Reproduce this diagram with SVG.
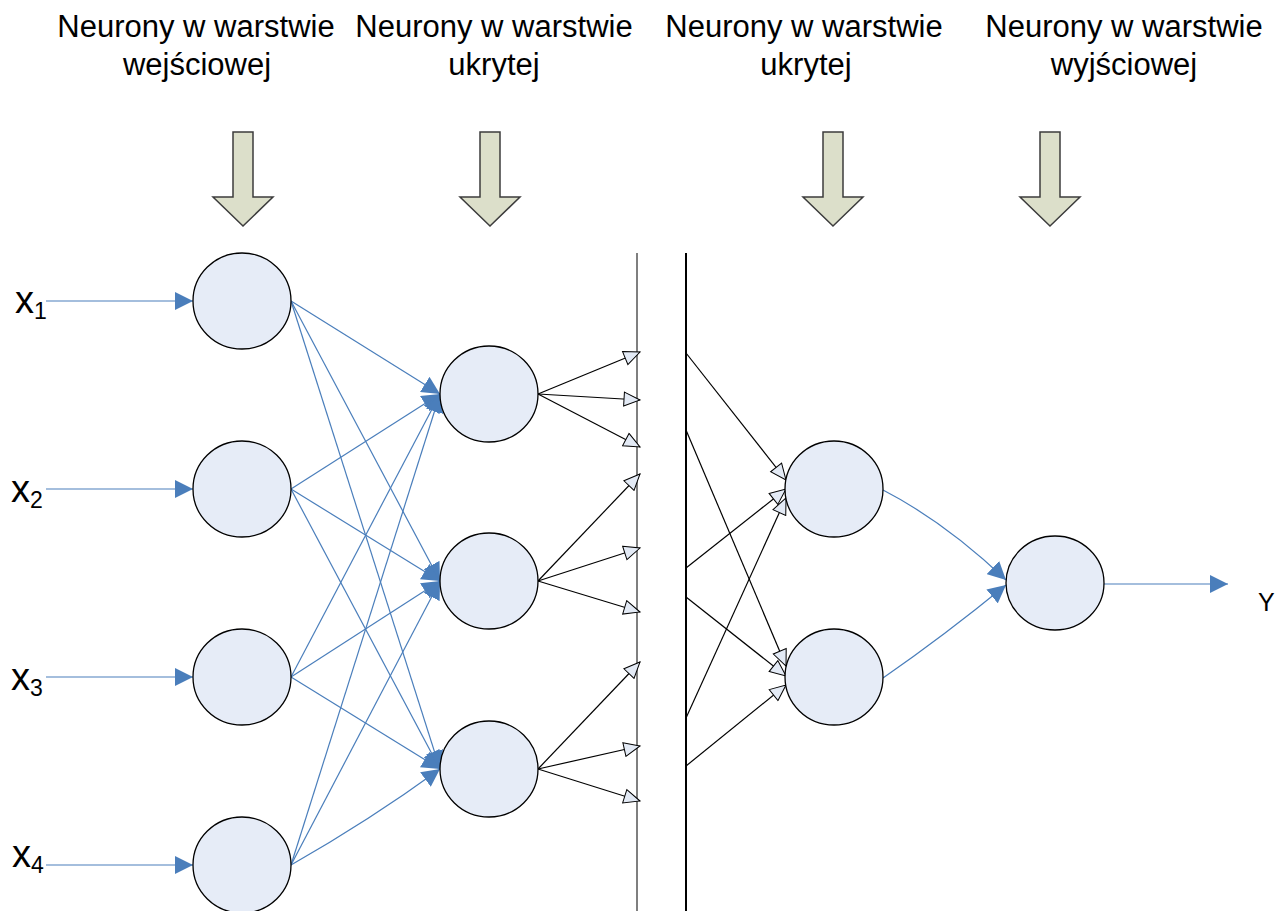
<svg xmlns="http://www.w3.org/2000/svg" width="1283" height="911" viewBox="0 0 1283 911">
<style>
.hdr{font-family:"Liberation Sans",Arial,sans-serif;font-size:31px;fill:#000;text-anchor:middle}
.lbl{font-family:"Liberation Sans",Arial,sans-serif;fill:#000}
.node{fill:#E6ECF7;stroke:#000;stroke-width:1.3}
.big{fill:#DCDFCA;stroke:#3c3c3c;stroke-width:1.5}
.bl{fill:none;stroke:#4A7EBB;stroke-width:1.2;marker-end:url(#ba)}
.bk{fill:none;stroke:#000;stroke-width:1.2;marker-end:url(#ha)}
</style>
<defs>
<marker id="ba" markerUnits="userSpaceOnUse" viewBox="0 0 18 18" markerWidth="18" markerHeight="18" refX="18" refY="9" orient="auto">
<path d="M0,0 L18,9 L0,18 z" fill="#4A7EBB"/>
</marker>
<marker id="ha" markerUnits="userSpaceOnUse" viewBox="-1 -1 19 16" markerWidth="19" markerHeight="16" refX="16" refY="7" orient="auto">
<path d="M0,0 L16,7 L0,14 z" fill="#E3EAF5" stroke="#000" stroke-width="1"/>
</marker>
</defs>

<g id="headers">
<text class="hdr" x="196" y="37">Neurony w warstwie</text>
<text class="hdr" x="197" y="75">wejściowej</text>
<text class="hdr" x="494" y="37">Neurony w warstwie</text>
<text class="hdr" x="494" y="75">ukrytej</text>
<text class="hdr" x="804" y="37">Neurony w warstwie</text>
<text class="hdr" x="806" y="75">ukrytej</text>
<text class="hdr" x="1124" y="37">Neurony w warstwie</text>
<text class="hdr" x="1124" y="75">wyjściowej</text>
</g>

<g id="layer-arrows">
<polygon class="big" points="233,132 253,132 253,197 273,197 243,226 213,197 233,197"/>
<polygon class="big" points="480,132 500,132 500,197 520,197 490,226 460,197 480,197"/>
<polygon class="big" points="823,132 843,132 843,197 863,197 833,226 803,197 823,197"/>
<polygon class="big" points="1040,132 1060,132 1060,197 1080,197 1050,226 1020,197 1040,197"/>
</g>

<g id="dividers">
<line x1="637" y1="253" x2="637" y2="911" stroke="#7f7f7f" stroke-width="2"/>
<line x1="686" y1="253" x2="686" y2="911" stroke="#000" stroke-width="2"/>
</g>

<g id="connectors">
<line class="bl" x1="46" y1="301" x2="193" y2="301"/>
<line class="bl" x1="46" y1="489" x2="193" y2="489"/>
<line class="bl" x1="46" y1="677" x2="193" y2="677"/>
<line class="bl" x1="46" y1="865" x2="193" y2="865"/>

<line class="bl" x1="291" y1="301" x2="440" y2="394"/>
<line class="bl" x1="291" y1="301" x2="440" y2="581"/>
<line class="bl" x1="291" y1="301" x2="440" y2="769"/>
<line class="bl" x1="291" y1="489" x2="440" y2="394"/>
<line class="bl" x1="291" y1="489" x2="440" y2="581"/>
<line class="bl" x1="291" y1="489" x2="440" y2="769"/>
<line class="bl" x1="291" y1="677" x2="440" y2="394"/>
<line class="bl" x1="291" y1="677" x2="440" y2="581"/>
<line class="bl" x1="291" y1="677" x2="440" y2="769"/>
<line class="bl" x1="291" y1="865" x2="440" y2="394"/>
<line class="bl" x1="291" y1="865" x2="440" y2="581"/>
<path class="bl" d="M291,865 Q370,820 440,769"/>

<line class="bk" x1="538" y1="394" x2="640" y2="352"/>
<line class="bk" x1="538" y1="394" x2="640" y2="400"/>
<line class="bk" x1="538" y1="394" x2="640" y2="447"/>
<line class="bk" x1="538" y1="581" x2="640" y2="474"/>
<line class="bk" x1="538" y1="581" x2="640" y2="548"/>
<line class="bk" x1="538" y1="581" x2="640" y2="612"/>
<line class="bk" x1="538" y1="769" x2="640" y2="662"/>
<line class="bk" x1="538" y1="769" x2="640" y2="746"/>
<line class="bk" x1="538" y1="769" x2="640" y2="801"/>

<line class="bk" x1="686" y1="353" x2="786" y2="480"/>
<line class="bk" x1="686" y1="568" x2="786" y2="489"/>
<line class="bk" x1="686" y1="718" x2="786" y2="498"/>
<line class="bk" x1="686" y1="430" x2="786" y2="666"/>
<line class="bk" x1="686" y1="597" x2="786" y2="676"/>
<line class="bk" x1="686" y1="766" x2="786" y2="685"/>

<path class="bl" d="M883,490 Q945,522 1006,580"/>
<path class="bl" d="M883,678 Q945,635 1006,585"/>
<line class="bl" x1="1104" y1="584" x2="1228" y2="584"/>
</g>

<g id="input-nodes">
<ellipse id="in1" class="node" cx="242" cy="301" rx="49" ry="48"/>
<ellipse id="in2" class="node" cx="242" cy="489" rx="49" ry="48"/>
<ellipse id="in3" class="node" cx="242" cy="677" rx="49" ry="48"/>
<ellipse id="in4" class="node" cx="242" cy="865" rx="49" ry="48"/>
</g>
<g id="hidden1-nodes">
<ellipse id="h11" class="node" cx="489" cy="394" rx="49" ry="48"/>
<ellipse id="h12" class="node" cx="489" cy="581" rx="49" ry="48"/>
<ellipse id="h13" class="node" cx="489" cy="769" rx="49" ry="48"/>
</g>
<g id="hidden2-nodes">
<ellipse id="h21" class="node" cx="834" cy="489" rx="49" ry="48"/>
<ellipse id="h22" class="node" cx="834" cy="677" rx="49" ry="48"/>
</g>
<g id="output-node">
<ellipse id="out" class="node" cx="1055" cy="583" rx="49" ry="47"/>
</g>

<g id="labels">
<text class="lbl" x="15" y="313" font-size="38">x<tspan font-size="23" dy="6">1</tspan></text>
<text class="lbl" x="11" y="502" font-size="38">x<tspan font-size="23" dy="6">2</tspan></text>
<text class="lbl" x="11" y="690" font-size="38">x<tspan font-size="23" dy="6">3</tspan></text>
<text class="lbl" x="12" y="867" font-size="38">x<tspan font-size="23" dy="6">4</tspan></text>
<text class="lbl" x="1258" y="611" font-size="25">Y</text>
</g>
</svg>
